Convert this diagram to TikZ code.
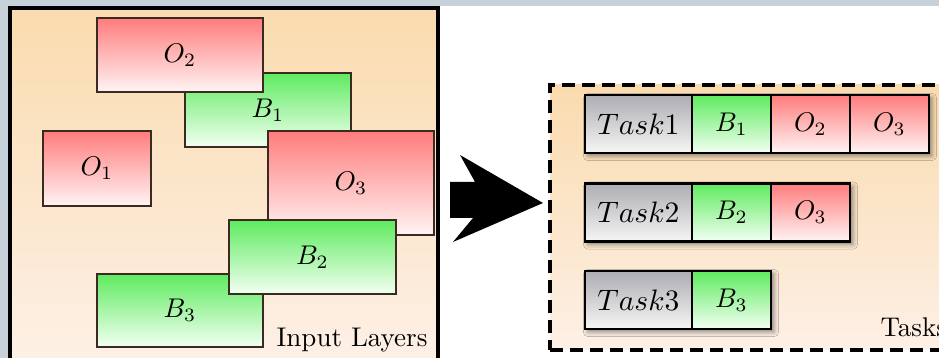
\documentclass[tikz,border=0pt]{standalone}
\usetikzlibrary{shadows.blur}
\definecolor{frame}{HTML}{C6D1D9}
\definecolor{peachtop}{HTML}{FADBAE}
\definecolor{peachbot}{HTML}{FDF0E6}
\definecolor{redtop}{HTML}{FF7C7C}
\definecolor{redbot}{HTML}{FFF4F4}
\definecolor{greentop}{HTML}{5FEB5F}
\definecolor{greenbot}{HTML}{F2FFF2}
\definecolor{graytop}{HTML}{ADADB2}
\definecolor{graybot}{HTML}{F6F6F6}
\definecolor{edge}{HTML}{3B2A22}
\tikzset{
  wsize/.style 2 args={minimum width=#1*0.37pt, minimum height=#2*0.37pt},
  layerbox/.style={draw=edge, line width=1.1pt, inner sep=0pt},
  obox/.style={layerbox, top color=redtop, bottom color=redbot},
  bbox/.style={layerbox, top color=greentop, bottom color=greenbot},
  cell/.style={draw=black, line width=0.8pt, inner sep=0pt, outer sep=0pt,
    minimum height=58*0.37pt, anchor=west},
  taskcell/.style={cell, top color=graytop, bottom color=graybot,
    minimum width=107*0.37pt, font=\fontsize{11}{13}\selectfont},
  bcell/.style={cell, top color=greentop, bottom color=greenbot, minimum width=79*0.37pt},
  ocell/.style={cell, top color=redtop, bottom color=redbot, minimum width=79*0.37pt},
  rowshadow/.style={inner sep=0pt, outer sep=0pt, fill=white,
    blur shadow={shadow xshift=1.1pt, shadow yshift=-1.1pt, shadow opacity=45}},
  panel/.style={inner sep=0pt, outer sep=0pt, top color=peachtop, bottom color=peachbot},
}
\begin{document}
\begin{tikzpicture}[x=0.37pt,y=-0.37pt]
\useasboundingbox (0,0) rectangle (939,358);

% outer window strips
\fill[frame] (0,0) rectangle (939,6);
\fill[frame] (0,0) rectangle (8,358);

% the two panels
\node[panel, draw=black, line width=1.5pt, wsize={428}{352}] (inp) at (224,184) {};
\node[panel, draw=black, line width=1.5pt, dash pattern=on 4.8pt off 2.6pt,
  wsize={410}{265}] (tasks) at (755,217.5) {};

% input layers (drawn back to front)
\node[bbox, wsize={166}{74}]  (B1) at (268,110)   {$B_1$};
\node[obox, wsize={166}{74}]  (O2) at (180,55)    {$O_2$};
\node[obox, wsize={108}{75}]  (O1) at (97,168.5)  {$O_1$};
\node[obox, wsize={166}{104}] (O3) at (351,183)   {$O_3$};
\node[bbox, wsize={166}{73}]  (B3) at (180,310.5) {$B_3$};
\node[bbox, wsize={167}{74}]  (B2) at (312.5,257) {$B_2$};
\node[anchor=base east, inner sep=0pt] (inlabel) at (428,347) {Input Layers};

% transformation arrow
\fill[black] (450,182) -- (475,182) -- (460,155) -- (543,203) -- (453,242)
  -- (473,218) -- (450,218) -- cycle;

% shadows under the task rows
\node[rowshadow, wsize={344}{58}] (s1) at (757,124) {};
\node[rowshadow, wsize={265}{58}] (s2) at (717.5,212.5) {};
\node[rowshadow, wsize={186}{58}] (s3) at (678,300) {};

% task rows
\node[taskcell] (t1) at (585,124) {$Task1$};
\node[bcell] (t1b) at (t1.east) {$B_1$};
\node[ocell] (t1o2) at (t1b.east) {$O_2$};
\node[ocell] (t1o3) at (t1o2.east) {$O_3$};

\node[taskcell] (t2) at (585,212.5) {$Task2$};
\node[bcell] (t2b) at (t2.east) {$B_2$};
\node[ocell] (t2o3) at (t2b.east) {$O_3$};

\node[taskcell] (t3) at (585,300) {$Task3$};
\node[bcell] (t3b) at (t3.east) {$B_3$};

\node[anchor=base west, inner sep=0pt] (tlabel) at (880,337) {Tasks};
\end{tikzpicture}
\end{document}
